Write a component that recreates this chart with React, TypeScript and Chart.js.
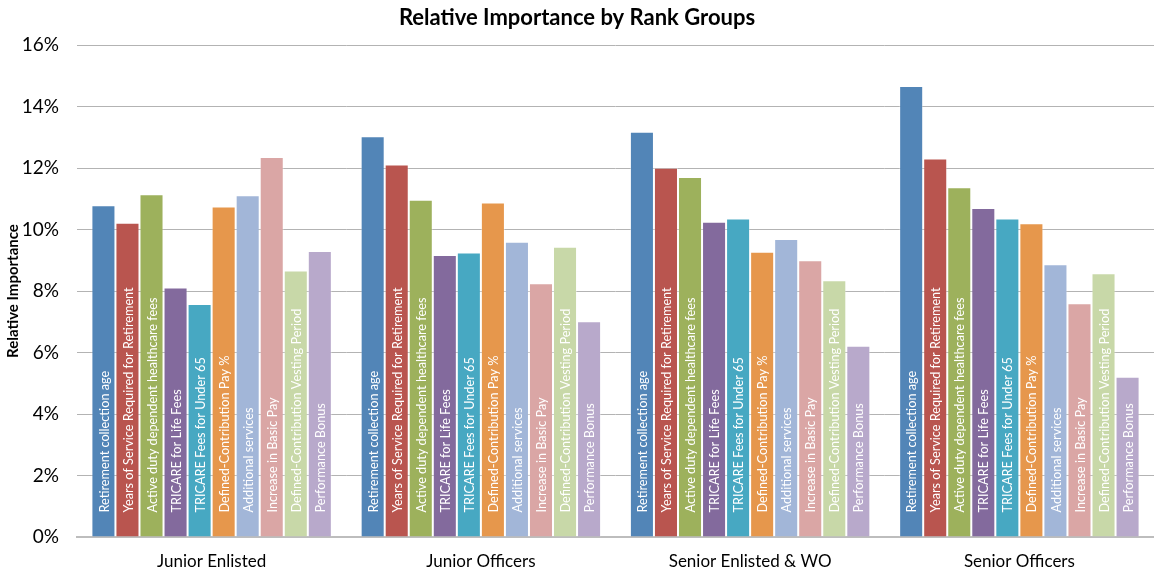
import React, { useEffect, useRef } from "react";
import { Chart, registerables } from "chart.js";

Chart.register(...registerables);

const groups = ["Junior Enlisted", "Junior Officers", "Senior Enlisted & WO", "Senior Officers"];

const seriesNames = [
  "Retirement collection age",
  "Years of Service Required for Retirement",
  "Active duty dependent healthcare fees",
  "TRICARE for Life Fees",
  "TRICARE Fees for Under 65",
  "Defined-Contribution Pay %",
  "Additional services",
  "Increase in Basic Pay",
  "Defined-Contribution Vesting Period",
  "Performance Bonus",
];

const retirementAge = [10.79, 13.03, 13.18, 14.67];
const yearsOfService = [10.22, 12.11, 12.01, 12.31];
const dependentFees = [11.15, 10.97, 11.71, 11.37];
const tricareLife = [8.11, 9.17, 10.25, 10.7];
const tricareUnder65 = [7.58, 9.25, 10.36, 10.36];
const dcPay = [10.75, 10.88, 9.28, 10.2];
const additionalServices = [11.11, 9.6, 9.69, 8.87];
const basicPay = [12.36, 8.25, 9.0, 7.6];
const dcVesting = [8.67, 9.44, 8.35, 8.58];
const performanceBonus = [9.3, 7.02, 6.22, 5.21];

const yTicks = [0, 2, 4, 6, 8, 10, 12, 14, 16];

const seriesValues = [
  retirementAge,
  yearsOfService,
  dependentFees,
  tricareLife,
  tricareUnder65,
  dcPay,
  additionalServices,
  basicPay,
  dcVesting,
  performanceBonus,
];

const colors = [
  "#5285B7",
  "#B9554F",
  "#9DB15C",
  "#836A9D",
  "#47A8C2",
  "#E6974C",
  "#A2B6D8",
  "#DAA6A5",
  "#C8D8A8",
  "#B8A9CB",
];

const FONT = "Lato, 'Open Sans', sans-serif";

const barLabelPlugin = {
  id: "barLabels",
  afterDatasetsDraw(chart: any) {
    const ctx = chart.ctx;
    ctx.save();
    ctx.font = `12.7px ${FONT}`;
    ctx.fillStyle = "#ffffff";
    ctx.textAlign = "left";
    ctx.textBaseline = "middle";
    chart.data.datasets.forEach((ds: any, i: number) => {
      const meta = chart.getDatasetMeta(i);
      meta.data.forEach((bar: any) => {
        ctx.save();
        ctx.translate(bar.x + 1, bar.base - 24);
        ctx.rotate(-Math.PI / 2);
        ctx.fillText(ds.label, 0, 0);
        ctx.restore();
      });
    });
    ctx.restore();
  },
};

export default function App() {
  const ref = useRef<HTMLCanvasElement | null>(null);

  useEffect(() => {
    document.body.style.margin = "0";
    const canvas = ref.current;
    if (!canvas) return;
    const chart = new Chart(canvas, {
      type: "bar",
      data: {
        labels: groups,
        datasets: seriesNames.map((name, i) => ({
          label: name,
          data: seriesValues[i],
          backgroundColor: colors[i],
          borderColor: "rgba(255,255,255,0.35)",
          borderWidth: 1,
          categoryPercentage: 0.893,
          barPercentage: 1,
        })),
      },
      options: {
        responsive: false,
        animation: false,
        layout: { padding: 0 },
        plugins: {
          legend: { display: false },
          tooltip: { enabled: false },
          title: {
            display: true,
            text: "Relative Importance by Rank Groups",
            color: "#000",
            font: { family: FONT, size: 22, weight: "bold" },
            padding: { top: 4.8, bottom: 13.8 },
          },
        },
        scales: {
          x: {
            grid: { display: false, drawTicks: false },
            border: { display: true, color: "#bdbdbd", width: 2 },
            ticks: {
              color: "#000",
              font: { family: FONT, size: 17 },
              padding: 14,
            },
            afterFit(scale: any) {
              scale.height = 34;
            },
          },
          y: {
            min: 0,
            max: 16,
            afterBuildTicks(scale: any) {
              scale.ticks = yTicks.map((v) => ({ value: v }));
            },
            grid: { color: "#b3b3b3", lineWidth: 1, drawTicks: false },
            border: { display: false },
            ticks: {
              color: "#000",
              font: { family: FONT, size: 19 },
              padding: 18,
              callback: (v: any) => `${v}%`,
            },
            title: {
              display: true,
              text: "Relative Importance",
              color: "#000",
              font: { family: FONT, size: 15, weight: "bold" },
              padding: { top: 4, bottom: 0 },
            },
            afterFit(scale: any) {
              scale.width = 77;
            },
          },
        },
      },
      plugins: [barLabelPlugin],
    });
    return () => chart.destroy();
  }, []);

  return (
    <div style={{ position: "absolute", left: 0, top: 0, width: 1154, height: 571 }}>
      <canvas ref={ref} width={1154} height={571} />
    </div>
  );
}
